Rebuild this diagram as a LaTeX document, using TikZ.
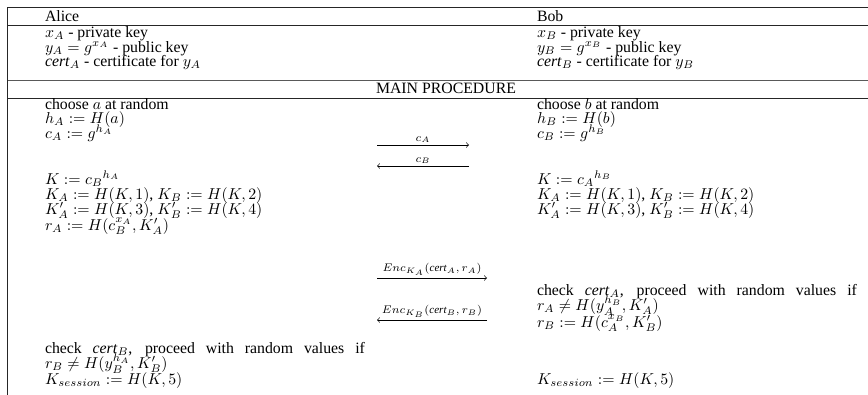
\documentclass[tikz,border=0pt]{standalone}
\usepackage{amsmath}
\usepackage[no-math]{fontspec}
\setmainfont{Liberation Serif}
\begin{document}
\begin{tikzpicture}[x=0.633pt,y=-0.633pt,font=\fontsize{10}{12}\selectfont]
\tikzset{
  txt/.style={anchor=base west,inner sep=0pt,outer sep=0pt},
  rulefrm/.style={line width=0.6pt,draw=black!85},
  msg/.style={->,line width=0.4pt},
  lbl/.style={font=\scriptsize,inner sep=1.2pt,above}
}
\useasboundingbox (0,0) rectangle (868,395);
% table rules
\draw[rulefrm] (7,7.5) -- (868,7.5);
\draw[rulefrm] (7,25.5) -- (868,25.5);
\draw[rulefrm,draw=black!65] (7,80.3) -- (868,80.3);
\draw[rulefrm] (7,98) -- (868,98);
\draw[rulefrm] (7,7.5) -- (7,395);
% header
\node[txt] (alice) at (45,21) {Alice};
\node[txt] (bob) at (537,21) {Bob};
\node[txt] (xa) at (45,37.5) {$x_A$ - private key};
\node[txt] (ya) at (45,52) {$y_A = g^{x_A}$ - public key};
\node[txt] (certa) at (45,66.5) {\textit{cert}$_A$ - certificate for $y_A$};
\node[txt] (xb) at (537,37.5) {$x_B$ - private key};
\node[txt] (yb) at (537,52) {$y_B = g^{x_B}$ - public key};
\node[txt] (certb) at (537,66.5) {\textit{cert}$_B$ - certificate for $y_B$};
\node[anchor=base,inner sep=0pt] (main) at (446,93) {MAIN PROCEDURE};
% Alice column
\node[txt] (cha) at (45,109) {choose $a$ at random};
\node[txt] (hA) at (45,123.5) {$h_A := H(a)$};
\node[txt] (cA) at (45,138.5) {$c_A := g^{h_A}$};
\node[txt] (KAl) at (45,184) {$K := {c_B}^{h_A}$};
\node[txt] (KAB) at (45,199) {$K_A := H(K,1)$, $K_B := H(K,2)$};
\node[txt] (KpAB) at (45,214) {$K'_A := H(K,3)$, $K'_B := H(K,4)$};
\node[txt] (rA) at (45,230) {$r_A := H(c_B^{x_A}, K'_A)$};
\node[txt] (chkB1) at (45,353.5) {\makebox[202.5pt][s]{check \textit{cert}$_B$, proceed with random values if}};
\node[txt] (chkB2) at (45,368.5) {$r_B \neq H(y_B^{h_A}, K'_B)$};
\node[txt] (KsA) at (45,384.5) {$K_{session} := H(K,5)$};
% Bob column
\node[txt] (chb) at (537,109) {choose $b$ at random};
\node[txt] (hB) at (537,123.5) {$h_B := H(b)$};
\node[txt] (cB) at (537,138.5) {$c_B := g^{h_B}$};
\node[txt] (KBl) at (537,184) {$K := {c_A}^{h_B}$};
\node[txt] (KABb) at (537,199) {$K_A := H(K,1)$, $K_B := H(K,2)$};
\node[txt] (KpABb) at (537,214) {$K'_A := H(K,3)$, $K'_B := H(K,4)$};
\node[txt] (chkA1) at (537,295.5) {\makebox[202.5pt][s]{check \textit{cert}$_A$, proceed with random values if}};
\node[txt] (chkA2) at (537,310.5) {$r_A \neq H(y_A^{h_B}, K'_A)$};
\node[txt] (rB) at (537,327) {$r_B := H(c_A^{x_B}, K'_B)$};
\node[txt] (KsB) at (537,384.5) {$K_{session} := H(K,5)$};
% messages
\coordinate (m1l) at (377,145); \coordinate (m1r) at (469,145);
\coordinate (m2l) at (377,166); \coordinate (m2r) at (469,166);
\coordinate (m3l) at (377,278); \coordinate (m3r) at (487,278);
\coordinate (m4l) at (377,320); \coordinate (m4r) at (487,320);
\draw[msg] (m1l) -- (m1r) node[lbl,midway] (l1) {$c_A$};
\draw[msg] (m2r) -- (m2l) node[lbl,midway] (l2) {$c_B$};
\draw[msg] (m3l) -- (m3r) node[lbl,midway] (l3) {$Enc_{K_A}(\textit{cert}_A, r_A)$};
\draw[msg] (m4r) -- (m4l) node[lbl,midway] (l4) {$Enc_{K_B}(\textit{cert}_B, r_B)$};
\end{tikzpicture}
\end{document}
